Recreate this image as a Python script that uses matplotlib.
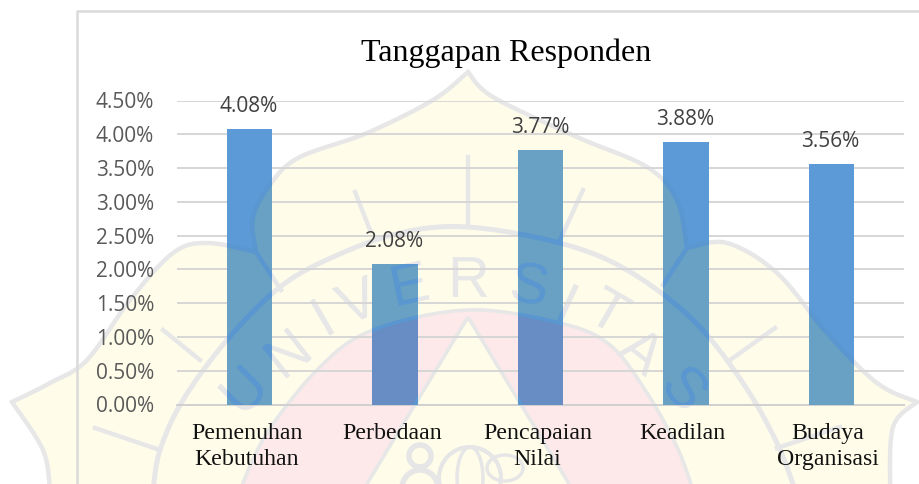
import matplotlib
matplotlib.use("Agg")
import numpy as np
import matplotlib.pyplot as plt
from matplotlib.patches import Circle, Ellipse, Polygon, PathPatch
from matplotlib.path import Path
from matplotlib.textpath import TextPath
from matplotlib.font_manager import FontProperties
from matplotlib.transforms import Affine2D

categories = ["Pemenuhan\nKebutuhan", "Perbedaan", "Pencapaian\nNilai", "Keadilan", "Budaya\nOrganisasi"]
values = [4.08, 2.08, 3.77, 3.88, 3.56]
labels = ["4.08%", "2.08%", "3.77%", "3.88%", "3.56%"]
yticks = [0, .5, 1, 1.5, 2, 2.5, 3, 3.5, 4, 4.5]
title = "Tanggapan Responden"

W, H = 919, 484
fig = plt.figure(figsize=(W/100, H/100), dpi=100, facecolor="white")


def smooth(pts, n=14):
    """Catmull-Rom through decorative outline points (pixel coordinates)."""
    p = np.array(pts, float)
    p = np.vstack([p[0], p, p[-1]])
    out = []
    for i in range(1, len(p) - 2):
        for t in np.linspace(0, 1, n, endpoint=False):
            out.append(0.5 * (2*p[i] + (p[i+1]-p[i-1])*t + (2*p[i-1]-5*p[i]+4*p[i+1]-p[i+2])*t*t
                              + (3*p[i]-p[i-1]-3*p[i+1]+p[i+2])*t**3))
    out.append(p[-2])
    return np.array(out)


# decorative watermark geometry
seg_a = smooth([(50, 490), (43, 450), (12, 402)])
seg_b = smooth([(12, 402), (50, 383), (87, 360), (130, 300), (173, 253), (207, 243), (256, 252)])
seg_c = smooth([(256, 252), (253, 217), (272, 182), (300, 157), (367, 133), (433, 100), (468, 72)])
seg_d = smooth([(468, 72), (493, 97), (577, 137), (647, 167), (677, 200), (687, 248)])
seg_e = smooth([(687, 248), (727, 243), (777, 273), (827, 333), (877, 383), (917, 402)])
seg_f = smooth([(917, 402), (893, 427), (890, 490)])
shield = np.vstack([seg_a, seg_b, seg_c, seg_d, seg_e, seg_f])
band = smooth([(153, 490), (160, 450), (183, 400), (227, 340), (280, 287), (333, 257), (400, 233), (468, 227),
               (560, 243), (627, 270), (693, 320), (743, 383), (777, 443), (795, 490)])
pink = smooth([(240, 490), (267, 433), (320, 367), (373, 330), (468, 310), (560, 323), (610, 345), (647, 393),
               (677, 447), (693, 490)])
triangle = [(468, 317), (362, 492), (574, 492)]
rays = [[(355, 192), (370, 230)], [(468, 157), (468, 227)], [(583, 190), (560, 240)], [(775, 328), (730, 360)],
        [(163, 330), (200, 360)], [(95, 428), (160, 450)], [(777, 448), (840, 427)], [(256, 252), (281, 290)],
        [(687, 248), (663, 285)]]
letters = [("U", 243, 390, 45), ("N", 287, 353, 38), ("I", 322, 317, 30), ("V", 357, 300, 22), ("E", 410, 283, 12),
           ("R", 470, 277, 0), ("S", 530, 283, -10), ("I", 568, 303, -25), ("T", 610, 310, -30), ("A", 643, 350, -38),
           ("S", 687, 387, -48)]
font = FontProperties(family="Liberation Sans")


def watermark(a, yellow, rose, line, clip=None):
    arts = [a.add_patch(Polygon(shield, closed=True, fc=yellow, ec="none")),
            a.add_patch(Polygon(pink, closed=True, fc=rose, ec="none")),
            a.add_patch(Polygon(triangle, closed=True, fc=yellow, ec="none")),
            a.add_patch(Polygon(shield, closed=True, fc="none", ec=line, lw=3.2)),
            a.add_patch(Polygon(band, closed=False, fc="none", ec=line, lw=3.6)),
            a.add_patch(Polygon(pink, closed=False, fc="none", ec=line, lw=2.6)),
            a.add_patch(Polygon(triangle, closed=True, fc="none", ec=line, lw=2.6))]
    for r in rays:
        arts += a.plot(*zip(*r), color=line, lw=3.2)
    for s, x, y, rot in letters:
        tp = TextPath((0, 0), s, size=58, prop=font)
        bb = tp.get_extents()
        tr = (Affine2D().translate(-(bb.x0 + bb.x1) / 2, -(bb.y0 + bb.y1) / 2)
              .scale(1, -1).rotate_deg(-rot).translate(x, y))
        arts.append(a.add_patch(PathPatch(tr.transform_path(tp), fc=line, ec="none")))
    for c in arts:
        c.set_clip_on(True)
        if clip is not None:
            c.set_clip_path(clip)
    return arts


bg = fig.add_axes([0, 0, 1, 1], zorder=0)
bg.set_xlim(0, W); bg.set_ylim(H, 0); bg.axis("off")
watermark(bg, "#fffdea", "#fde9ea", "#e7e7e7")
# emblem at the foot of the page
emb = "#e6e6e6"
bg.add_patch(Circle((420, 456), 11, fc="none", ec=emb, lw=4))
bg.add_patch(Ellipse((420, 488), 36, 36, fc="none", ec=emb, lw=4))
bg.add_patch(Circle((470, 478), 31, fc="none", ec=emb, lw=3))
bg.add_patch(Ellipse((470, 478), 26, 62, fc="none", ec=emb, lw=2.5))
bg.add_patch(Ellipse((505, 468), 36, 26, fc="none", ec=emb, lw=2.5))
# chart frame
bg.plot([77, 77, 919], [490, 10.5, 10.5], color="#dadada", lw=1.8)

# plot
x0, x1, ytop, ybot = 177, 904, 100.5, 404.5
ax = fig.add_axes([x0/W, 1-ybot/H, (x1-x0)/W, (ybot-ytop)/H], zorder=1)
ax.patch.set_alpha(0)
bars = ax.bar(range(5), values, width=0.312, color="#5b9ad7", zorder=3)
ax.set_xlim(-0.5, 4.5)
ax.set_ylim(0, 4.5)
ax.set_yticks(yticks)
ax.set_yticklabels([f"{t:.2f}%" for t in yticks], fontsize=15, color="#595959", family="Open Sans")
ax.set_xticks(np.arange(5) - 0.022)
ax.set_xticklabels(categories, fontsize=17.2, family="Liberation Serif", color="#111111", linespacing=1.36)
ax.tick_params(axis="both", length=0)
ax.tick_params(axis="x", pad=13)
ax.tick_params(axis="y", pad=16.5)
ax.grid(axis="y", color="#d6d6d6", lw=1.4, zorder=0)
ax.set_axisbelow(True)
for sp in ["top", "right", "left"]:
    ax.spines[sp].set_visible(False)
ax.spines["bottom"].set_color("#d0d0d0")
ax.spines["bottom"].set_linewidth(1.4)
for i, (v, l) in enumerate(zip(values, labels)):
    ax.annotate(l, (i, v), xytext=(-0.5, 8.8), textcoords="offset points", ha="center", va="bottom",
                fontsize=15, color="#404040", family="Open Sans", zorder=6)

# watermark showing through the bars, clipped to the bars themselves
ov = fig.add_axes([0, 0, 1, 1], zorder=2)
ov.set_xlim(0, W); ov.set_ylim(H, 0); ov.axis("off")
fig.canvas.draw()
verts, codes = [], []
for b in bars:
    e = b.get_window_extent()
    r = ov.transData.inverted().transform([(e.x0, e.y0), (e.x1, e.y0), (e.x1, e.y1), (e.x0, e.y1), (e.x0, e.y0)])
    verts += list(r)
    codes += [Path.MOVETO, Path.LINETO, Path.LINETO, Path.LINETO, Path.CLOSEPOLY]
clip = PathPatch(Path(verts, codes), transform=ov.transData, fc="none", ec="none")
ov.add_patch(clip)
watermark(ov, "#68a1c3", "#678dc4", "#5a96cf", clip=clip)

fig.text(506/W, 1-53/H, title, fontsize=23, family="Liberation Serif", ha="center", va="center", color="black")
fig.savefig("out.png", dpi=100)
